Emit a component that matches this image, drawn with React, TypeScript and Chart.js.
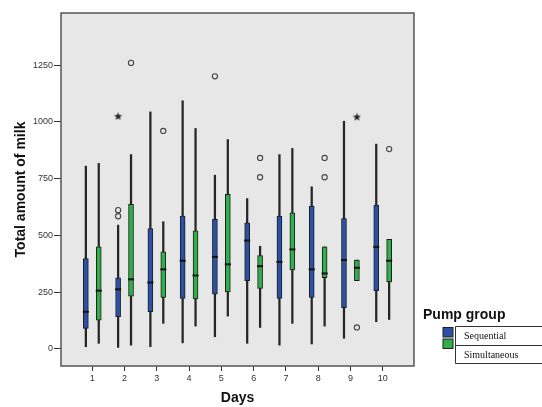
import React, { useEffect, useRef } from "react";
import { Chart, registerables } from "chart.js";

Chart.register(...registerables);

const DAYS = [1, 2, 3, 4, 5, 6, 7, 8, 9, 10];
const Y_TICKS = [0, 250, 500, 750, 1000, 1250];

const SEQ_MIN = [9, 6, 9, 26, 53, 24, 16, 21, 46, 119];
const SEQ_Q1 = [90, 141, 163, 222, 241, 300, 222, 226, 181, 256];
const SEQ_MED = [163, 262, 292, 388, 405, 477, 383, 350, 391, 449];
const SEQ_Q3 = [398, 313, 530, 585, 570, 555, 585, 629, 574, 633];
const SEQ_MAX = [805, 545, 1044, 1093, 765, 662, 856, 714, 1003, 902];

const SIM_MIN = [24, 16, 112, 100, 144, 94, 112, 100, 300, 129];
const SIM_Q1 = [126, 232, 226, 220, 251, 266, 347, 313, 300, 295];
const SIM_MED = [256, 306, 350, 323, 372, 364, 438, 332, 357, 388];
const SIM_Q3 = [449, 637, 427, 520, 681, 411, 599, 449, 391, 482];
const SIM_MAX = [817, 856, 560, 971, 922, 452, 883, 449, 391, 482];

const SEQ_OUT_DAYS = [2, 2, 5];
const SEQ_OUT_VALUES = [611, 584, 1201];
const SEQ_EXT_DAYS = [2];
const SEQ_EXT_VALUES = [1025];

const SIM_OUT_DAYS = [2, 3, 6, 6, 8, 8, 9, 10];
const SIM_OUT_VALUES = [1260, 960, 841, 756, 841, 756, 94, 880];
const SIM_EXT_DAYS = [9];
const SIM_EXT_VALUES = [1022];

const GROUPS = ["Sequential", "Simultaneous"];
const LEGEND_TITLE = "Pump group";

const BLUE = "#2b51a6";
const GREEN = "#2fae4a";
const DODGE = 0.2;
const W = 542;
const H = 407;
const SANS = "'Liberation Sans', Arial, sans-serif";

function makeStar(): HTMLCanvasElement {
  const c = document.createElement("canvas");
  c.width = 9;
  c.height = 9;
  const g = c.getContext("2d")!;
  g.fillStyle = "#222";
  g.beginPath();
  for (let i = 0; i < 10; i++) {
    const r = i % 2 === 0 ? 4.3 : 1.8;
    const a = -Math.PI / 2 + (i * Math.PI) / 5;
    const px = 4.5 + r * Math.cos(a);
    const py = 4.8 + r * Math.sin(a);
    if (i === 0) g.moveTo(px, py);
    else g.lineTo(px, py);
  }
  g.closePath();
  g.fill();
  return c;
}

export default function App() {
  const ref = useRef<HTMLCanvasElement | null>(null);

  useEffect(() => {
    if (!ref.current) return;
    const star = makeStar();
    const off = (g: number) => (g === 0 ? -DODGE : DODGE);
    const groups = [
      { min: SEQ_MIN, q1: SEQ_Q1, med: SEQ_MED, q3: SEQ_Q3, max: SEQ_MAX, color: BLUE, od: SEQ_OUT_DAYS, ov: SEQ_OUT_VALUES, ed: SEQ_EXT_DAYS, ev: SEQ_EXT_VALUES },
      { min: SIM_MIN, q1: SIM_Q1, med: SIM_MED, q3: SIM_Q3, max: SIM_MAX, color: GREEN, od: SIM_OUT_DAYS, ov: SIM_OUT_VALUES, ed: SIM_EXT_DAYS, ev: SIM_EXT_VALUES },
    ];
    const datasets: any[] = [];
    groups.forEach((g, gi) => {
      datasets.push({
        type: "bar",
        label: GROUPS[gi] + " whisker",
        data: DAYS.map((d, i) => ({ x: d + off(gi), y: [g.min[i], g.max[i]] })),
        backgroundColor: "#262626",
        borderWidth: 0,
        barThickness: 1.6,
        grouped: false,
        order: 5,
      });
      datasets.push({
        type: "bar",
        label: GROUPS[gi],
        data: DAYS.map((d, i) => ({ x: d + off(gi), y: [g.q1[i], g.q3[i]] })),
        backgroundColor: g.color,
        borderColor: "#1e1e1e",
        borderWidth: 1,
        borderSkipped: false,
        barThickness: 5,
        grouped: false,
        order: 4,
      });
      datasets.push({
        type: "scatter",
        label: GROUPS[gi] + " median",
        data: DAYS.map((d, i) => ({ x: d + off(gi), y: g.med[i] })),
        pointStyle: "line",
        radius: 3,
        borderWidth: 2,
        borderColor: "#111",
        order: 3,
      });
      datasets.push({
        type: "scatter",
        label: GROUPS[gi] + " outliers",
        data: g.od.map((d, i) => ({ x: d + off(gi), y: g.ov[i] })),
        pointStyle: "circle",
        radius: 2.6,
        borderWidth: 1.1,
        borderColor: "#444",
        backgroundColor: "rgba(0,0,0,0)",
        order: 2,
      });
      datasets.push({
        type: "scatter",
        label: GROUPS[gi] + " extremes",
        data: g.ed.map((d, i) => ({ x: d + off(gi), y: g.ev[i] })),
        pointStyle: star,
        radius: 4,
        order: 1,
      });
    });

    const decor = {
      id: "decor",
      beforeDraw(chart: any) {
        const { ctx, chartArea: a } = chart;
        ctx.save();
        ctx.fillStyle = "#ffffff";
        ctx.fillRect(0, 0, chart.width, chart.height);
        ctx.fillStyle = "#e6e7e6";
        ctx.fillRect(a.left, a.top, a.right - a.left, a.bottom - a.top);
        ctx.restore();
      },
      afterDatasetsDraw(chart: any) {
        const { ctx, chartArea: a } = chart;
        ctx.save();
        ctx.strokeStyle = "#555";
        ctx.lineWidth = 1.5;
        ctx.strokeRect(a.left, a.top, a.right - a.left, a.bottom - a.top);
        ctx.restore();
      },
      afterDraw(chart: any) {
        const { ctx } = chart;
        ctx.save();
        ctx.fillStyle = "#111";
        ctx.font = "bold 14px " + SANS;
        ctx.textBaseline = "middle";
        ctx.textAlign = "left";
        ctx.fillText(LEGEND_TITLE, 423, 315);
        const colors = [BLUE, GREEN];
        const sy = [327.5, 339];
        colors.forEach((c, i) => {
          ctx.fillStyle = c;
          ctx.fillRect(443, sy[i], 10, 9.5);
          ctx.strokeStyle = "#222";
          ctx.lineWidth = 1;
          ctx.strokeRect(443, sy[i], 10, 9.5);
        });
        ctx.strokeStyle = "#333";
        ctx.lineWidth = 1;
        ctx.beginPath();
        [326.5, 345.5, 363.5].forEach((y) => {
          ctx.moveTo(455.5, y);
          ctx.lineTo(542, y);
        });
        ctx.moveTo(455.5, 326.5);
        ctx.lineTo(455.5, 363.5);
        ctx.stroke();
        ctx.fillStyle = "#111";
        ctx.font = "10px 'Liberation Serif', 'Times New Roman', serif";
        ctx.fillText(GROUPS[0], 464, 336.5);
        ctx.fillText(GROUPS[1], 464, 355);
        ctx.restore();
      },
    };

    const chart = new Chart(ref.current, {
      type: "bar",
      data: { datasets },
      options: {
        animation: false,
        responsive: false,
        maintainAspectRatio: false,
        events: [],
        layout: { padding: { top: 13, right: 128, left: 0, bottom: 0 } },
        plugins: { legend: { display: false }, tooltip: { enabled: false } },
        scales: {
          x: {
            type: "linear",
            min: 0.03,
            max: 10.97,
            offset: false,
            afterBuildTicks: (s: any) => {
              s.ticks = DAYS.map((v) => ({ value: v }));
            },
            afterFit: (s: any) => {
              s.height = 41;
            },
            grid: { offset: false, drawOnChartArea: false, drawTicks: true, tickLength: 5, tickColor: "#333", tickWidth: 1 },
            border: { display: false },
            ticks: { color: "#333", font: { size: 9, family: SANS }, padding: 2, maxRotation: 0, autoSkip: false, callback: (v: any) => String(v) },
            title: { display: true, text: "Days", color: "#111", font: { size: 14, weight: "bold", family: SANS }, padding: { top: 0, bottom: 0 } },
          },
          y: {
            type: "linear",
            min: -76,
            max: 1480,
            afterBuildTicks: (s: any) => {
              s.ticks = Y_TICKS.map((v) => ({ value: v }));
            },
            afterFit: (s: any) => {
              s.width = 61;
            },
            grid: { drawOnChartArea: false, drawTicks: true, tickLength: 7, tickColor: "#333", tickWidth: 1 },
            border: { display: false },
            ticks: { color: "#333", font: { size: 9, family: SANS }, padding: 1, callback: (v: any) => String(v) },
            title: { display: true, text: "Total amount of milk", color: "#111", font: { size: 14, weight: "bold", family: SANS }, padding: { top: 13, bottom: 0 } },
          },
        },
      } as any,
      plugins: [decor],
    });
    return () => chart.destroy();
  }, []);

  return (
    <div style={{ position: "absolute", left: 0, top: 0, width: W, height: H, background: "#fff" }}>
      <canvas ref={ref} width={W} height={H} style={{ display: "block", width: W, height: H }} />
    </div>
  );
}
